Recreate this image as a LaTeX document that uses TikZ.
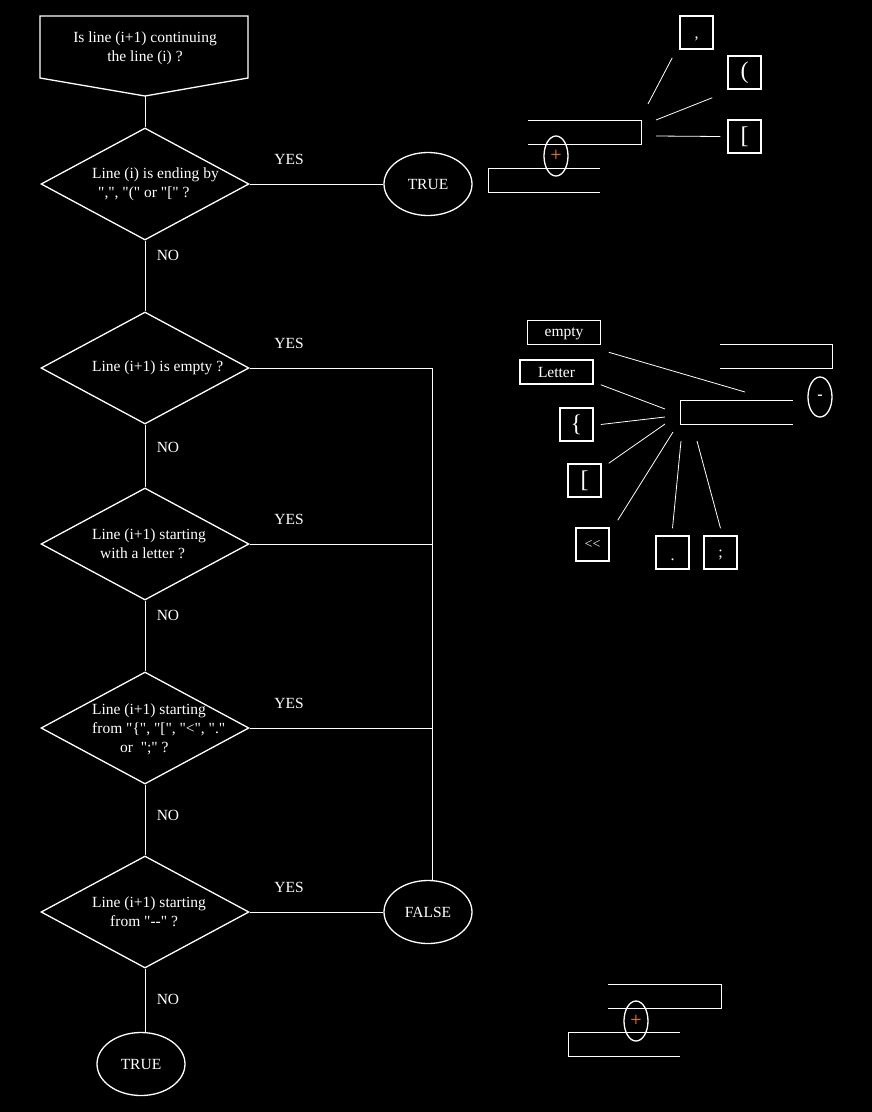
\documentclass[tikz,border=0pt]{standalone}
\usepackage{fontspec}
\setmainfont{Liberation Serif}
\usetikzlibrary{shapes.geometric}
\newcommand\dq{\textquotedbl}

\begin{document}
\begin{tikzpicture}[x=1pt,y=-1pt,
  every node/.style={text=white,font=\fontsize{15.5}{19}\selectfont},
  line/.style={draw=white,line width=1pt},
  spoke/.style={draw=white,line width=0.8pt},
  dec/.style={diamond,draw=white,line width=1.3pt,minimum width=208pt,minimum height=112pt,inner sep=0pt},
  dectext/.style={anchor=west,align=left,inner sep=0pt},
  term/.style={ellipse,draw=white,line width=1.3pt,minimum width=88pt,minimum height=63pt,inner sep=0pt},
  sym/.style={draw=white,line width=1.5pt,minimum width=33pt,minimum height=33pt,inner sep=0pt},
  word/.style={draw=white,line width=1.5pt,minimum width=73pt,minimum height=24pt,inner sep=0pt},
  op/.style={ellipse,draw=white,line width=1.3pt,minimum width=24pt,minimum height=40pt,inner sep=0pt}]
\fill[black] (0,0) rectangle (872,1112);
\useasboundingbox (0,0) rectangle (872,1112);

% start
\draw[line,line width=1.3pt] (40,16) -- (248,16) -- (248,78) -- (145,96) -- (40,78) -- cycle;
\node[align=center] (start) at (145,48) {Is line (i+1) continuing\\the line (i) ?};
\coordinate (s) at (145,96);

% decisions
\node[dec] (d1) at (145,184) {};
\node[dectext] (t1) at (92,184.5) {Line (i) is ending by\\\hspace{6pt}\dq,\dq, \dq(\dq{} or \dq[\dq{} ?};
\node[dec] (d2) at (145,368) {};
\node[dectext] (t2) at (92,368) {Line (i+1) is empty ?};
\node[dec] (d3) at (145,544) {};
\node[dectext] (t3) at (92,544) {Line (i+1) starting\\\hspace{8pt}with a letter ?};
\node[dec] (d4) at (145,728) {};
\node[dectext] (t4) at (92,729) {Line (i+1) starting\\from \dq\{\dq, \dq[\dq, \dq<\dq, \dq.\dq\\\hspace{28pt}or \ \dq;\dq{} ?};
\node[dec] (d5) at (145,912) {};
\node[dectext] (t5) at (92,912) {Line (i+1) starting\\\hspace{18pt}from \dq-{}-\dq{} ?};

% results
\node[term] (true1) at (428,184) {TRUE};
\node[term] (false) at (428,912) {FALSE};
\node[term] (true2) at (141,1064) {TRUE};
\coordinate (j) at (432,368);

% labels
\node (y1) at (289,159) {YES};
\node (y2) at (289,343) {YES};
\node (y3) at (289,519) {YES};
\node (y4) at (289,703) {YES};
\node (y5) at (289,887) {YES};
\node (n1) at (168,255) {NO};
\node (n2) at (168,447) {NO};
\node (n3) at (168,615) {NO};
\node (n4) at (168,815) {NO};
\node (n5) at (168,999) {NO};

% connectors
\draw[line] (s) -- (d1.north);
\draw[line] (d1.east) -- (true1.west);
\draw[line] (d1.south) -- (d2.north);
\draw[line] (d2.south) -- (d3.north);
\draw[line] (d3.south) -- (d4.north);
\draw[line] (d4.south) -- (d5.north);
\draw[line] (d5.south) -- (d5.south |- true2.north);
\draw[line] (d2.east) -- (j) -- (j |- false.north);
\draw[line] (d3.east) -- (d3 -| j);
\draw[line] (d4.east) -- (d4 -| j);
\draw[line] (d5.east) -- (false.west);

% concatenation, top
\node[sym,font=\fontsize{16}{16}\selectfont] (comma) at (696.5,32.5) {\raisebox{-6pt}[0pt][0pt]{,}};
\node[sym,font=\fontsize{24}{24}\selectfont] (paren) at (744.5,72.5) {(};
\node[sym,font=\fontsize{24}{24}\selectfont] (brack) at (744.5,136.5) {[};
\draw[spoke] ([xshift=-7pt,yshift=-8pt]comma.south west) -- (648,104);
\draw[spoke] ([xshift=-15pt,yshift=-8pt]paren.south west) -- (656,120);
\draw[spoke] ([xshift=-7pt]brack.west) -- (656,136);
\draw[line] (528,120) -- (641,120) -- (641,144) -- (528,144);
\draw[line] (600,168) -- (488,168) -- (488,192) -- (600,192);
\node[op,text=orange,font=\fontsize{20}{20}\selectfont] (plus1) at (556,156) {+};

% concatenation, middle
\node[word] (empty) at (564,332.5) {\raisebox{0pt}[11pt][3pt]{empty}};
\node[word] (letter) at (556.5,372) {Letter};
\node[sym,font=\fontsize{24}{24}\selectfont] (lbrace) at (576.5,424.5) {\{};
\node[sym,font=\fontsize{24}{24}\selectfont] (lbrack) at (584.5,480.5) {[};
\node[sym,font=\fontsize{14}{14}\selectfont] (shl) at (592.5,544.5) {<{}<};
\node[sym,font=\fontsize{16}{16}\selectfont] (dot) at (672.5,552.5) {\raisebox{-7.5pt}[0pt][0pt]{.}};
\node[sym,font=\fontsize{16}{16}\selectfont] (semi) at (720.5,552.5) {\raisebox{-5pt}[0pt][0pt]{;}};
\draw[spoke] ([xshift=7.5pt,yshift=-7pt]empty.south east) -- (745,392);
\draw[spoke] ([xshift=7pt]letter.south east) -- (665,409);
\draw[spoke] ([xshift=7pt]lbrace.east) -- (665,417);
\draw[spoke] ([xshift=7pt]lbrack.north east) -- (665,424);
\draw[spoke] ([xshift=8pt,yshift=7pt]shl.north east) -- (673,432);
\draw[spoke] ([yshift=7pt]dot.north) -- (681,441);
\draw[spoke] ([yshift=7pt]semi.north) -- (697,441);
\draw[line] (720,344) -- (832,344) -- (832,368) -- (720,368);
\draw[line] (793,400) -- (680,400) -- (680,424) -- (793,424);
\node[op,font=\bfseries\fontsize{16}{16}\selectfont] (minus) at (820,397) {-};

% concatenation, bottom
\draw[line] (608,984) -- (721,984) -- (721,1008) -- (608,1008);
\draw[line] (680,1032) -- (568,1032) -- (568,1056) -- (680,1056);
\node[op,text=orange,font=\fontsize{20}{20}\selectfont] (plus2) at (636,1021) {+};
\end{tikzpicture}
\end{document}
